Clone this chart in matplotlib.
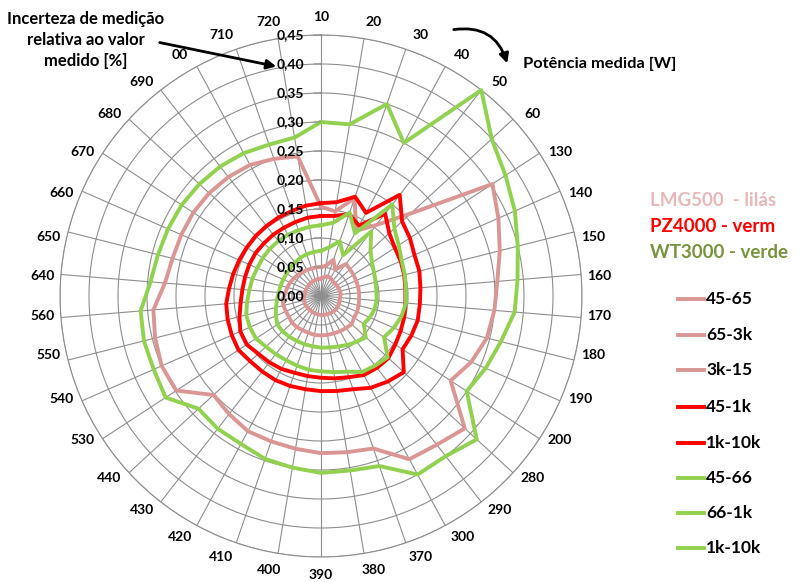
import numpy as np
import matplotlib
matplotlib.use("Agg")
import matplotlib.pyplot as plt
from matplotlib.patches import FancyArrowPatch
from matplotlib.lines import Line2D

plt.rcParams["font.family"] = ["Lato", "DejaVu Sans"]

# Measured power [W] around the radar
categories = ["10", "20", "30", "40", "50", "60", "130", "140", "150", "160", "170",
              "180", "190", "200", "280", "290", "300", "370", "380", "390", "400",
              "410", "420", "430", "440", "530", "540", "550", "560", "640", "650",
              "660", "670", "680", "690", "00", "710", "720"]

# Relative measurement uncertainty [%] per instrument / frequency band
lmg_45_65 = [0.030, 0.033, 0.036, 0.035, 0.033, 0.032, 0.033, 0.033, 0.034, 0.034,
             0.033, 0.033, 0.034, 0.034, 0.035, 0.034, 0.034, 0.033, 0.033, 0.033,
             0.032, 0.032, 0.031, 0.031, 0.031, 0.031, 0.031, 0.030, 0.030, 0.028,
             0.028, 0.028, 0.028, 0.028, 0.029, 0.029, 0.029, 0.030]
lmg_65_3k = [0.050, 0.053, 0.066, 0.052, 0.070, 0.068, 0.067, 0.066, 0.066, 0.066,
             0.066, 0.067, 0.068, 0.068, 0.072, 0.070, 0.069, 0.068, 0.068, 0.068,
             0.068, 0.067, 0.067, 0.068, 0.068, 0.066, 0.066, 0.067, 0.066, 0.062,
             0.060, 0.058, 0.056, 0.054, 0.052, 0.051, 0.050, 0.050]
lmg_3k_15 = [0.154, 0.148, 0.178, 0.128, 0.155, 0.210, 0.353, 0.334, 0.318, 0.305,
             0.300, 0.295, 0.283, 0.267, 0.337, 0.325, 0.320, 0.278, 0.273, 0.271,
             0.267, 0.265, 0.265, 0.258, 0.252, 0.298, 0.300, 0.295, 0.290, 0.270,
             0.264, 0.263, 0.263, 0.262, 0.260, 0.257, 0.250, 0.244]
pz_45_1k = [0.138, 0.140, 0.149, 0.138, 0.180, 0.160, 0.152, 0.150, 0.148, 0.146,
            0.146, 0.148, 0.150, 0.153, 0.158, 0.157, 0.155, 0.148, 0.144, 0.141,
            0.140, 0.140, 0.143, 0.145, 0.147, 0.153, 0.152, 0.145, 0.139, 0.136,
            0.135, 0.135, 0.135, 0.134, 0.134, 0.134, 0.135, 0.137]
pz_1k_10k = [0.160, 0.164, 0.181, 0.163, 0.221, 0.190, 0.183, 0.176, 0.175, 0.172,
             0.171, 0.172, 0.170, 0.168, 0.194, 0.187, 0.180, 0.170, 0.166, 0.164,
             0.163, 0.164, 0.165, 0.165, 0.166, 0.170, 0.168, 0.166, 0.164, 0.159,
             0.156, 0.154, 0.153, 0.153, 0.153, 0.154, 0.155, 0.158]
wt_45_66 = [0.078, 0.085, 0.100, 0.080, 0.141, 0.116, 0.105, 0.100, 0.097, 0.096,
            0.096, 0.095, 0.092, 0.088, 0.105, 0.100, 0.096, 0.092, 0.090, 0.089,
            0.088, 0.088, 0.088, 0.089, 0.090, 0.090, 0.085, 0.080, 0.076, 0.073,
            0.072, 0.071, 0.071, 0.072, 0.073, 0.075, 0.076, 0.077]
wt_66_1k = [0.122, 0.128, 0.152, 0.123, 0.200, 0.172, 0.160, 0.152, 0.149, 0.147,
            0.147, 0.143, 0.137, 0.130, 0.156, 0.152, 0.149, 0.138, 0.133, 0.130,
            0.129, 0.127, 0.126, 0.127, 0.129, 0.134, 0.134, 0.133, 0.128, 0.124,
            0.122, 0.120, 0.120, 0.120, 0.120, 0.120, 0.120, 0.121]
wt_1k_10k = [0.300, 0.300, 0.350, 0.300, 0.450, 0.400, 0.380, 0.365, 0.350, 0.340,
             0.335, 0.320, 0.310, 0.300, 0.365, 0.350, 0.350, 0.310, 0.305, 0.305,
             0.300, 0.297, 0.290, 0.290, 0.287, 0.320, 0.315, 0.315, 0.312, 0.295,
             0.290, 0.288, 0.287, 0.285, 0.283, 0.280, 0.276, 0.277]

r_ticks = [0.00, 0.05, 0.10, 0.15, 0.20, 0.25, 0.30, 0.35, 0.40, 0.45]

legend_labels = ["45-65", "65-3k", "3k-15", "45-1k", "1k-10k", "45-66", "66-1k", "1k-10k"]

PINK = "#D99694"
RED = "#FF0000"
GREEN = "#92D050"
GRID = "#8e8e8e"

W, H = 799, 582
fig = plt.figure(figsize=(W / 100, H / 100), dpi=100)
fig.patch.set_facecolor("white")

cx, cy, R = 321, 296, 261
ax = fig.add_axes([(cx - R) / W, (H - cy - R) / H, 2 * R / W, 2 * R / H],
                  projection="polar")
ax.set_theta_zero_location("N")
ax.set_theta_direction(-1)
ax.set_ylim(0, r_ticks[-1])

n = len(categories)
theta = np.arange(n) * 2 * np.pi / n
ax.set_xticks(theta)
ax.set_xticklabels([])
ax.set_yticks(r_ticks[1:])
ax.set_yticklabels([])
ax.tick_params(length=0)
ax.grid(True, color=GRID, lw=0.8)
ax.spines["polar"].set_color(GRID)
ax.spines["polar"].set_linewidth(0.8)

series = [(lmg_45_65, PINK), (lmg_65_3k, PINK), (lmg_3k_15, PINK),
          (pz_45_1k, RED), (pz_1k_10k, RED),
          (wt_45_66, GREEN), (wt_66_1k, GREEN), (wt_1k_10k, GREEN)]
tc = np.append(theta, theta[0])
for vals, col in series:
    v = np.append(vals, vals[0])
    ax.plot(tc, v, color=col, lw=2.8, clip_on=False, zorder=3)

# category labels around the outside
r_lab = r_ticks[-1] * 279 / R
for i, lab in enumerate(categories):
    a = np.degrees(theta[i])
    s, c = np.sin(theta[i]), np.cos(theta[i])
    d = 2.0 * np.sign(np.sin(2 * theta[i])) * min(1, 4 * abs(s)) * min(1, 4 * abs(c))
    ax.text(np.radians(a + d), r_lab, lab, ha="center", va="center",
            fontsize=10, fontweight="bold", color="black")

# value axis labels along the first spoke
for v in r_ticks:
    ax.annotate(f"{v:.2f}".replace(".", ","), xy=(0, v), xytext=(-12, 0),
                textcoords="offset points", ha="right", va="center",
                fontsize=10, fontweight="bold", color="black")
    ax.annotate("", xy=(0, v), xytext=(-5, 0), textcoords="offset points",
                arrowprops=dict(arrowstyle="-", color=GRID, lw=0.8,
                                shrinkA=0, shrinkB=0))


def fx(x):
    return x / W


def fy(y):
    return 1 - y / H


fig.text(fx(86), fy(40), "Incerteza de medição\nrelativa ao valor\nmedido [%]",
         ha="center", va="center", fontsize=12, fontweight="bold",
         linespacing=1.4)
fig.add_artist(FancyArrowPatch((fx(157), fy(42)), (fx(279), fy(67)),
                               transform=fig.transFigure, arrowstyle="-|>",
                               mutation_scale=14, lw=2, color="black"))

fig.text(fx(523), fy(64), "Potência medida [W]", ha="left", va="center",
         fontsize=11.8, fontweight="bold")
fig.add_artist(FancyArrowPatch((fx(451), fy(30)), (fx(508), fy(66)),
                               transform=fig.transFigure, arrowstyle="-|>",
                               connectionstyle="arc3,rad=-0.45",
                               mutation_scale=14, lw=2, color="black"))

# instrument titles
fig.text(fx(650), fy(200), "LMG500  - lilás", ha="left", va="center",
         fontsize=13.5, fontweight="bold", color="#E6B9B8")
fig.text(fx(650), fy(227), "PZ4000 - verm", ha="left", va="center",
         fontsize=13.5, fontweight="bold", color="#FF0000")
fig.text(fx(650), fy(253), "WT3000 - verde", ha="left", va="center",
         fontsize=13.5, fontweight="bold", color="#77933C")

# legend
leg_y = [299, 335, 370, 407, 443, 478, 513, 548]
for (vals, col), lab, y in zip(series, legend_labels, leg_y):
    fig.add_artist(Line2D([fx(678), fx(704)], [fy(y), fy(y)], color=col, lw=2.8,
                          transform=fig.transFigure))
    fig.text(fx(706), fy(y), lab, ha="left", va="center", fontsize=12.5,
             fontweight="bold")

fig.savefig("out.png", dpi=100, facecolor="white")
